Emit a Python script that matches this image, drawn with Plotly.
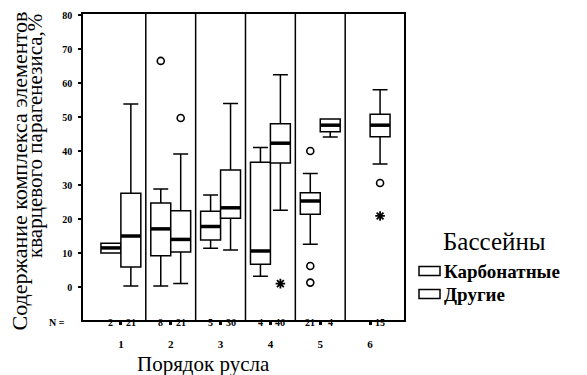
import plotly.graph_objects as go

# ---------------- data ----------------
categories = [1, 2, 3, 4, 5, 6]
category_labels = ["1", "2", "3", "4", "5", "6"]
series_names = ["Карбонатные", "Другие"]
legend_title = "Бассейны"

# Карбонатные
carb_cats = [1, 2, 3, 4, 5]
carb_n = [2, 8, 5, 4, 21]
carb_low = [10.0, 0.3, 11.4, 3.2, 12.6]
carb_q1 = [10.0, 9.2, 13.8, 6.7, 21.4]
carb_med = [11.5, 17.1, 17.8, 10.6, 25.3]
carb_q3 = [12.9, 24.7, 22.3, 36.7, 27.7]
carb_high = [12.9, 28.8, 27.1, 41.0, 33.4]

# Другие
other_cats = [1, 2, 3, 4, 5, 6]
other_n = [21, 21, 36, 46, 4, 15]
other_low = [0.3, 1.0, 10.9, 22.6, 44.1, 36.2]
other_q1 = [5.9, 10.3, 20.2, 36.5, 45.7, 44.2]
other_med = [15.0, 14.0, 23.3, 42.3, 47.6, 47.6]
other_q3 = [27.6, 22.4, 34.4, 48.0, 49.4, 50.8]
other_high = [53.8, 39.1, 54.0, 62.4, 49.4, 58.0]

# outliers (circles) and extremes (stars)
carb_out_cat = [2, 5, 5, 5]
carb_out_val = [66.5, 40.0, 6.2, 1.3]
other_out_cat = [2, 6]
other_out_val = [49.7, 30.6]
other_ext_cat = [4, 6]
other_ext_val = [1.0, 20.9]

y_ticks = [0, 10, 20, 30, 40, 50, 60, 70, 80]

# ---------------- styling ----------------
SERIF = "Liberation Serif"
OFF = 0.2      # half-distance between paired boxes
BW = 0.4       # box width (data units)

L, R, T, B = 83, 183, 14, 55
W, H = 587, 375
pw, ph = W - L - R, H - T - B


def px_x(p):
    return (p - L) / pw


def px_y(p):
    return (H - B - p) / ph


fig = go.Figure()

series = [
    (series_names[0], carb_cats, carb_low, carb_q1, carb_med, carb_q3, carb_high, -OFF),
    (series_names[1], other_cats, other_low, other_q1, other_med, other_q3, other_high, OFF),
]

for name, cats, lo, q1, med, q3, hi, off in series:
    xs = [c + off for c in cats]
    fig.add_trace(go.Box(
        name=name, x=xs, q1=q1, median=med, q3=q3,
        lowerfence=lo, upperfence=hi, width=BW,
        fillcolor="white", line=dict(color="black", width=1.5),
        whiskerwidth=0.75, boxpoints=False, hoverinfo="skip", showlegend=False,
    ))
    # thick median bars
    fig.add_trace(go.Scatter(
        x=xs, y=med, mode="markers", showlegend=False, hoverinfo="skip",
        marker=dict(symbol="line-ew", size=14, color="black",
                    line=dict(color="black", width=3.5)),
    ))

# outliers
fig.add_trace(go.Scatter(
    x=[c - OFF for c in carb_out_cat], y=carb_out_val, mode="markers",
    showlegend=False, marker=dict(symbol="circle-open", size=7, color="black",
                                  line=dict(width=1.6))))
fig.add_trace(go.Scatter(
    x=[c + OFF for c in other_out_cat], y=other_out_val, mode="markers",
    showlegend=False, marker=dict(symbol="circle-open", size=7, color="black",
                                  line=dict(width=1.6))))
fig.add_trace(go.Scatter(
    x=[c + OFF for c in other_ext_cat], y=other_ext_val, mode="markers",
    showlegend=False, marker=dict(symbol="asterisk-open", size=8, color="black",
                                  line=dict(width=1.8))))

# group separators
shapes = []
for c in categories[:-1]:
    shapes.append(dict(type="line", xref="x", yref="paper", x0=c + 0.5, x1=c + 0.5,
                       y0=0, y1=1, line=dict(color="black", width=1.5)))

annotations = []
# N labels
nfont = dict(family=SERIF, size=10, color="black")
annotations.append(dict(text="<b>N =</b>", xref="paper", yref="paper",
                        x=px_x(47), y=px_y(330), showarrow=False, font=nfont))
for cats, ns, off in [(carb_cats, carb_n, -OFF), (other_cats, other_n, OFF)]:
    for c, n in zip(cats, ns):
        annotations.append(dict(text="<b>%d</b>" % n, xref="x", yref="paper",
                                x=c + off, y=px_y(330), showarrow=False, font=nfont))

# axis titles
annotations.append(dict(text="Содержание комплекса элементов", xref="paper", yref="paper",
                        x=px_x(19), y=px_y(10), xanchor="center", yanchor="top",
                        textangle=-90, showarrow=False,
                        font=dict(family=SERIF, size=22, color="black")))
annotations.append(dict(text="кварцевого парагенезиса,%", xref="paper", yref="paper",
                        x=px_x(35), y=px_y(12), xanchor="center", yanchor="top",
                        textangle=-90, showarrow=False,
                        font=dict(family=SERIF, size=21, color="black")))
annotations.append(dict(text="Порядок русла", xref="paper", yref="paper",
                        x=px_x(203), y=px_y(364), xanchor="center", yanchor="middle",
                        showarrow=False, font=dict(family=SERIF, size=21, color="black")))

# legend (drawn by hand to match the SPSS layout)
annotations.append(dict(text=legend_title, xref="paper", yref="paper",
                        x=px_x(494), y=px_y(241), xanchor="center", yanchor="middle",
                        showarrow=False, font=dict(family=SERIF, size=25, color="black")))
legend_rows = [271, 294]
for name, row in zip(series_names, legend_rows):
    shapes.append(dict(type="rect", xref="paper", yref="paper",
                       x0=px_x(419), x1=px_x(440), y0=px_y(row + 4.5), y1=px_y(row - 4.5),
                       fillcolor="white", line=dict(color="black", width=1.5)))
    annotations.append(dict(text="<b>%s</b>" % name, xref="paper", yref="paper",
                            x=px_x(442), y=px_y(row), xanchor="left", yanchor="middle",
                            showarrow=False, font=dict(family=SERIF, size=19, color="black")))

fig.update_layout(
    width=W, height=H, margin=dict(l=L, r=R, t=T, b=B, autoexpand=False),
    paper_bgcolor="white", plot_bgcolor="white",
    boxmode="overlay", showlegend=False,
    shapes=shapes, annotations=annotations,
    xaxis=dict(
        range=[0.24, 6.68], tickmode="array", tickvals=categories,
        ticktext=["<b>%s</b>" % t for t in category_labels],
        tickfont=dict(family=SERIF, size=11, color="black"),
        ticks="outside", ticklen=3, tickwidth=3, tickcolor="black",
        ticklabelstandoff=10,
        showline=True, mirror=True, linecolor="black", linewidth=1.5,
        showgrid=False, zeroline=False,
    ),
    yaxis=dict(
        range=[-9.7, 80.3], tickmode="array", tickvals=y_ticks,
        ticktext=["<b>%d</b>" % v for v in y_ticks],
        tickfont=dict(family=SERIF, size=10, color="black"),
        ticks="outside", ticklen=3, tickwidth=2, tickcolor="black",
        ticklabelstandoff=4,
        showline=True, mirror=True, linecolor="black", linewidth=1.5,
        showgrid=False, zeroline=False,
    ),
)

fig.write_html("out.html", config={"displayModeBar": False},
               post_script="document.body.style.margin='0';")
